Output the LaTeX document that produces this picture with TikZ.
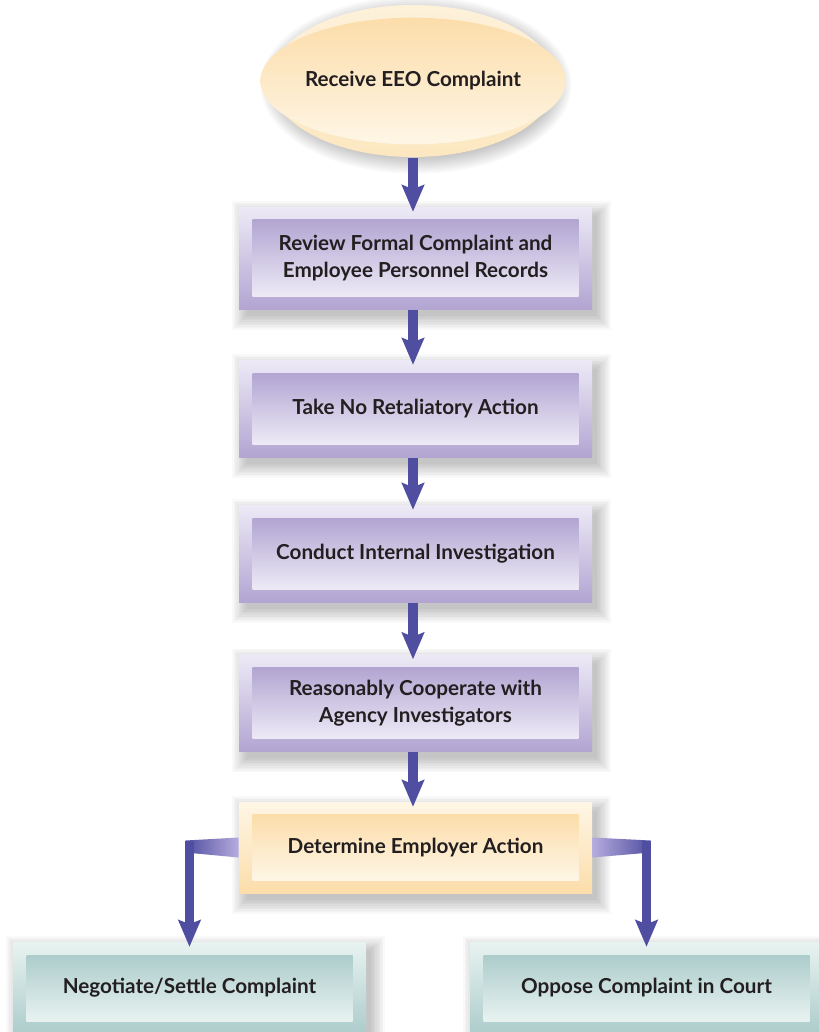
\documentclass[tikz,border=0pt]{standalone}
\usepackage{fontspec}
\setmainfont{Lato}
\usetikzlibrary{arrows.meta,calc,backgrounds,shapes.geometric}

\definecolor{arrowblue}{RGB}{80,78,160}
\definecolor{wedgelight}{RGB}{182,172,222}
\definecolor{lavlight}{RGB}{237,234,246}
\definecolor{lavdark}{RGB}{178,165,210}
\definecolor{tanlight}{RGB}{254,246,230}
\definecolor{tandark}{RGB}{252,221,170}
\definecolor{tanrim}{RGB}{253,241,218}
\definecolor{tanrimlow}{RGB}{252,231,192}
\definecolor{teallight}{RGB}{232,243,241}
\definecolor{tealdark}{RGB}{172,204,203}
\definecolor{inktext}{RGB}{35,31,32}

\tikzset{every picture/.style={line width=0.75pt},
  boxtext/.style={font=\bfseries\fontsize{15.5}{20}\selectfont, text=inktext, align=center},
  haze/.style={fill=black, opacity=0.022},
  boxframe/.style={rectangle, inner sep=0pt, minimum width=264.75pt, minimum height=72.75pt},
  boxpanel/.style={rectangle, inner sep=0pt, minimum width=244.5pt, minimum height=53.25pt, boxtext},
  purpleframe/.style={boxframe, top color=lavlight, bottom color=lavdark},
  purplepanel/.style={boxpanel, top color=lavdark, bottom color=lavlight},
  tanframe/.style={boxframe, top color=tanlight, bottom color=tandark},
  tanpanel/.style={boxpanel, top color=tandark, bottom color=tanlight},
  tealframe/.style={boxframe, top color=teallight, bottom color=tealdark},
  tealpanel/.style={boxpanel, top color=tealdark, bottom color=teallight},
  startrim/.style={ellipse, inner sep=0pt, minimum width=214.5pt, minimum height=114pt, top color=tanrim, bottom color=tanrimlow},
  startcore/.style={ellipse, inner sep=0pt, minimum width=192pt, minimum height=95pt, top color=tandark, bottom color=tanlight, boxtext},
  flow/.style={draw=arrowblue, line width=7.5pt, -{Stealth[width=16.5pt, length=20pt, inset=3pt]}, shorten >=-4pt},
  branch/.style={draw=arrowblue, line width=7pt, -{Stealth[width=16.5pt, length=20pt, inset=3pt]}, shorten >=-4pt}
}

\begin{document}
\begin{tikzpicture}[x=0.75pt,y=0.75pt,yscale=-1,xscale=1]
	\useasboundingbox (0,0) rectangle (818,1032);

	% start
	\node[startrim, label={[startcore]center:Receive EEO Complaint}] (eeo) at (413,81) {};

	% steps
	\node[purpleframe, minimum height=76.5pt, label={[purplepanel, minimum height=57.75pt]center:{Review Formal Complaint and\\Employee Personnel Records}}] (rev) at (415.5,258) {};
	\node[purpleframe, label={[purplepanel]center:{Take No Retaliatory Action}}] (ret) at (415.5,408.5) {};
	\node[purpleframe, label={[purplepanel]center:{Conduct Internal Investigation}}] (inv) at (415.5,553.5) {};
	\node[purpleframe, label={[purplepanel]center:{Reasonably Cooperate with\\Agency Investigators}}] (coop) at (415.5,703) {};
	\node[tanframe, minimum height=68.25pt, label={[tanpanel, minimum height=49.5pt]center:{Determine Employer Action}}] (act) at (415.5,847.5) {};

	% outcomes
	\node[tealframe, minimum height=69pt, label={[tealpanel, minimum height=49.5pt]center:{Negotiate/Settle Complaint}}] (neg) at (189.5,988) {};
	\node[tealframe, minimum height=69pt, label={[tealpanel, minimum height=49.5pt]center:{Oppose Complaint in Court}}] (opp) at (646.5,988) {};

	% soft shadows behind everything
	\begin{scope}[on background layer]
		\fill[white] (0,0) rectangle (818,1032);
		\foreach \n in {rev,ret,inv,coop,act,neg,opp}
			\foreach \k in {0,...,9}
				\fill[haze] ($(\n.north west)+(8-\k*1.6,9-\k*1.6)$) rectangle ($(\n.south east)+(4+\k*1.6,6+\k*1.6)$);
		\foreach \k in {0,...,9}
			\fill[haze] ($(eeo.center)+(3,4)$) ellipse [x radius={(104+\k*1.4)*1pt}, y radius={(54+\k*1.4)*1pt}];
	\end{scope}

	% arrows
	\draw[flow] (eeo.south) -- (eeo.south |- rev.north);
	\draw[flow] (rev.south -| eeo.south) -- (ret.north -| eeo.south);
	\draw[flow] (ret.south -| eeo.south) -- (inv.north -| eeo.south);
	\draw[flow] (inv.south -| eeo.south) -- (coop.north -| eeo.south);
	\draw[flow] (coop.south -| eeo.south) -- (act.north -| eeo.south);

	\coordinate (lk) at (act.west -| neg.north);
	\coordinate (rk) at (act.east -| opp.north);
	\shade[left color=arrowblue, right color=wedgelight] ($(act.west)+(0,-10)$) -- ($(lk)+(-4,-7)$) -- ($(lk)+(-4,5)$) -- ($(act.west)+(0,10)$) -- cycle;
	\shade[left color=wedgelight, right color=arrowblue] ($(act.east)+(0,-10)$) -- ($(rk)+(4,-7)$) -- ($(rk)+(4,5)$) -- ($(act.east)+(0,10)$) -- cycle;
	\draw[branch] ($(lk)+(0,-7)$) -- (neg.north);
	\draw[branch] ($(rk)+(0,-7)$) -- (opp.north);

\end{tikzpicture}
\end{document}
